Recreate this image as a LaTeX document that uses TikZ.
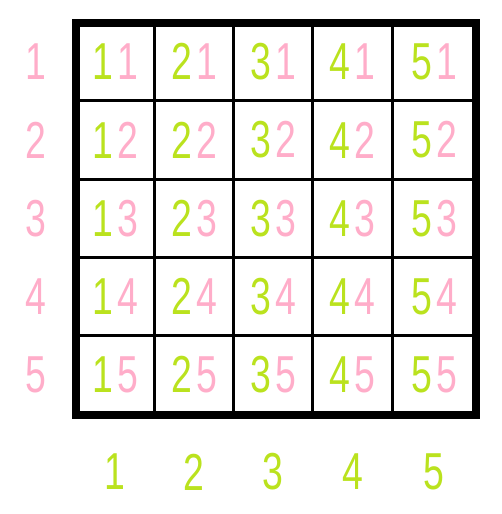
\documentclass[tikz,border=0pt]{standalone}
\usepackage{fontspec}
\newfontfamily\digitfont[FakeStretch=0.72]{Liberation Sans}
\definecolor{numgreen}{RGB}{186,226,30}
\definecolor{numpink}{RGB}{255,173,201}
\newcommand{\cellnum}[2]{\textcolor{numgreen}{#1}\hspace{4pt}\textcolor{numpink}{#2}}
\tikzset{
  num/.style={inner sep=0pt, font=\digitfont\fontsize{52}{52}\selectfont},
  rowlab/.style={num, text=numpink},
  collab/.style={num, text=numgreen}
}
\begin{document}
\begin{tikzpicture}[x=1pt,y=-1pt]
  \useasboundingbox (0,0) rectangle (502,514);
  \begin{scope}[line width=3pt]
    \draw (154.5,23) -- (154.5,414.5);
    \draw (233.5,23) -- (233.5,414.5);
    \draw (312.7,23) -- (312.7,414.5);
    \draw (392.7,23) -- (392.7,414.5);
    \draw (75.7,100.5) -- (475.8,100.5);
    \draw (75.7,179.3) -- (475.8,179.3);
    \draw (75.7,257.7) -- (475.8,257.7);
    \draw (75.7,335.0) -- (475.8,335.0);
  \end{scope}
  \draw[line width=8pt] (75.7,23) rectangle (475.8,414.5);
  % row labels
  \draw
    (36,61.8) node[rowlab] (r1){1}
    (36,139.9) node[rowlab] (r2){2}
    (36,218.5) node[rowlab] (r3){3}
    (36,296.4) node[rowlab] (r4){4}
    (36,374.8) node[rowlab] (r5){5};
  % column labels
  \draw
    (115.1,472) node[collab] (k1){1}
    (194.0,472) node[collab] (k2){2}
    (273.1,472) node[collab] (k3){3}
    (352.7,472) node[collab] (k4){4}
    (434.3,472) node[collab] (k5){5};
  % cells
  \draw
    (115.1,61.8) node[num] (c11){\cellnum11}
    (194.0,61.8) node[num] (c21){\cellnum21}
    (273.1,61.8) node[num] (c31){\cellnum31}
    (352.7,61.8) node[num] (c41){\cellnum41}
    (434.3,61.8) node[num] (c51){\cellnum51}
    (115.1,139.9) node[num] (c12){\cellnum12}
    (194.0,139.9) node[num] (c22){\cellnum22}
    (273.1,139.9) node[num] (c32){\cellnum32}
    (352.7,139.9) node[num] (c42){\cellnum42}
    (434.3,139.9) node[num] (c52){\cellnum52}
    (115.1,218.5) node[num] (c13){\cellnum13}
    (194.0,218.5) node[num] (c23){\cellnum23}
    (273.1,218.5) node[num] (c33){\cellnum33}
    (352.7,218.5) node[num] (c43){\cellnum43}
    (434.3,218.5) node[num] (c53){\cellnum53}
    (115.1,296.4) node[num] (c14){\cellnum14}
    (194.0,296.4) node[num] (c24){\cellnum24}
    (273.1,296.4) node[num] (c34){\cellnum34}
    (352.7,296.4) node[num] (c44){\cellnum44}
    (434.3,296.4) node[num] (c54){\cellnum54}
    (115.1,374.8) node[num] (c15){\cellnum15}
    (194.0,374.8) node[num] (c25){\cellnum25}
    (273.1,374.8) node[num] (c35){\cellnum35}
    (352.7,374.8) node[num] (c45){\cellnum45}
    (434.3,374.8) node[num] (c55){\cellnum55};
\end{tikzpicture}
\end{document}
